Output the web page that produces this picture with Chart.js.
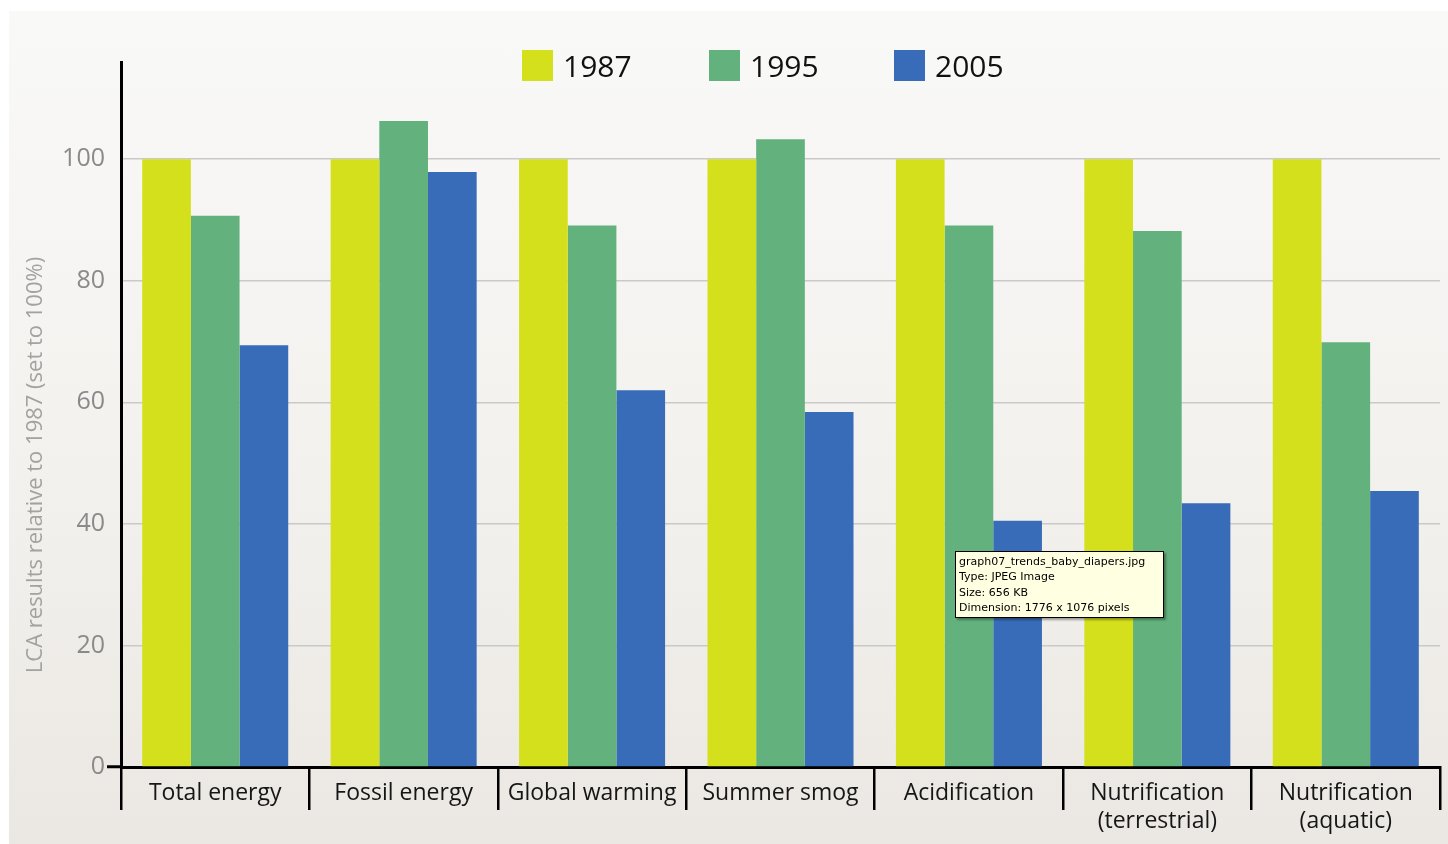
<!DOCTYPE html>
<html>
<head>
<meta charset="utf-8">
<script src="https://cdn.jsdelivr.net/npm/chart.js@4/dist/chart.umd.min.js"></script>
<style>
  html, body { margin: 0; padding: 0; background: #ffffff; }
  #stage { position: relative; width: 1448px; height: 844px; overflow: hidden; font-family: "Open Sans", sans-serif; }
  #panel { position: absolute; left: 9px; top: 11px; right: 0; bottom: 0;
           background: linear-gradient(to bottom, #f9f9f8 0%, #f4f2ef 50%, #ebe8e3 100%); }
  #chart { position: absolute; left: 0; top: 0; }
  .leg { position: absolute; top: 45px; height: 40px; display: flex; align-items: center; font-size: 30px; color: #111; }
  .leg i { display: inline-block; width: 31px; height: 31px; margin-right: 10px; }
  #tip { position: absolute; left: 955px; top: 551px; width: 201px; padding: 2px 3px 2px 3px;
         background: #ffffe1; border: 1px solid #000; box-shadow: 2px 2px 2px rgba(0,0,0,0.35);
         font-family: "DejaVu Sans", sans-serif; font-size: 11px; line-height: 15.3px; color: #000; white-space: nowrap; }
</style>
</head>
<body>
<div id="stage">
  <div id="panel"></div>
  <canvas id="chart" width="1448" height="844"></canvas>
  <div id="legend"></div>
  <div id="tip">graph07_trends_baby_diapers.jpg<br>Type: JPEG Image<br>Size: 656 KB<br>Dimension: 1776 x 1076 pixels</div>
</div>
<script>
// Impact categories (multi-line labels as arrays)
const categories = [
  'Total energy',
  'Fossil energy',
  'Global warming',
  'Summer smog',
  'Acidification',
  ['Nutrification', '(terrestrial)'],
  ['Nutrification', '(aquatic)']
];

// LCA results relative to 1987 (1987 = 100)
const values1987 = [100, 100, 100, 100, 100, 100, 100];
const values1995 = [90.7, 106.3, 89.1, 103.3, 89.1, 88.2, 69.9];
const values2005 = [69.4, 97.9, 62.0, 58.4, 40.5, 43.4, 45.4];

const seriesNames = ['1987', '1995', '2005'];
const seriesColors = ['#d4e01b', '#63b27d', '#386bb8'];

const yTickValues = [0, 20, 40, 60, 80, 100];
const yTitle = 'LCA results relative to 1987 (set to 100%)';

// Legend row above the plot
const legendLeft = [522, 709, 894];
const legendEl = document.getElementById('legend');
seriesNames.forEach((name, i) => {
  const d = document.createElement('div');
  d.className = 'leg';
  d.style.left = legendLeft[i] + 'px';
  d.innerHTML = '<i style="background:' + seriesColors[i] + '"></i>' + name;
  legendEl.appendChild(d);
});

// Rotated y-axis title
const yTitlePlugin = {
  id: 'yTitle',
  afterDraw(chart) {
    const ctx = chart.ctx;
    ctx.save();
    ctx.translate(36, 465);
    ctx.rotate(-Math.PI / 2);
    ctx.font = '22px "Open Sans"';
    ctx.fillStyle = '#a2a2a2';
    ctx.textAlign = 'center';
    ctx.textBaseline = 'middle';
    ctx.fillText(yTitle, 0, 0);
    ctx.restore();
  }
};

const seriesData = [values1987, values1995, values2005];

new Chart(document.getElementById('chart'), {
  type: 'bar',
  data: {
    labels: categories,
    datasets: seriesNames.map((name, i) => ({
      label: name,
      data: seriesData[i],
      backgroundColor: seriesColors[i],
      borderWidth: 0,
      categoryPercentage: 0.775,
      barPercentage: 1.0
    }))
  },
  options: {
    responsive: false,
    animation: false,
    layout: { padding: { top: 62, right: 8, left: 0, bottom: 0 } },
    plugins: {
      legend: { display: false },
      tooltip: { enabled: false }
    },
    scales: {
      x: {
        afterFit(scale) { scale.height = 77; },
        border: { display: true, color: '#000', width: 3 },
        grid: {
          offset: true,
          drawOnChartArea: false,
          color: '#000',
          lineWidth: 2.5,
          tickLength: 43
        },
        ticks: {
          padding: -30,
          color: '#161616',
          font: { family: 'Open Sans', size: 23 },
          maxRotation: 0,
          autoSkip: false
        }
      },
      y: {
        min: 0,
        max: 116,
        afterFit(scale) { scale.width = 121; },
        afterBuildTicks(scale) {
          scale.ticks = yTickValues.map(v => ({ value: v }));
        },
        border: { display: true, color: '#000', width: 3 },
        grid: {
          color: ctx => (ctx.tick && ctx.tick.value === 0) ? 'rgba(0,0,0,0)' : '#c9c9c9',
          lineWidth: 1.5,
          tickColor: ctx => (ctx.tick && ctx.tick.value === 0) ? '#000' : 'rgba(0,0,0,0)',
          tickWidth: 3,
          tickLength: 14
        },
        ticks: {
          padding: 2,
          color: '#8a8a8a',
          font: { family: 'Open Sans', size: 25 },
          callback: v => String(v)
        }
      }
    }
  },
  plugins: [yTitlePlugin]
});
</script>
</body>
</html>
